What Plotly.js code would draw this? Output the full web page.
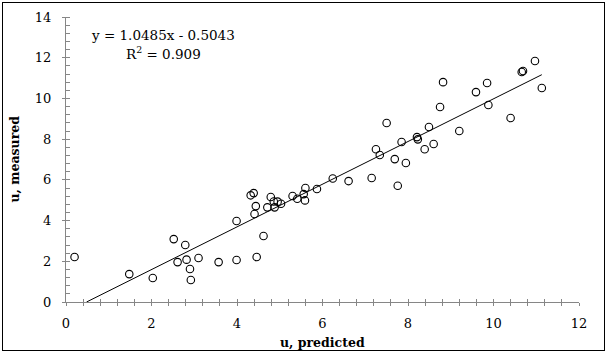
<!DOCTYPE html>
<html>
<head>
<meta charset="utf-8">
<script src="https://cdn.plot.ly/plotly-3.0.1.min.js"></script>
<style>
  html, body { margin: 0; padding: 0; background: #fff; }
  #wrap { position: relative; width: 607px; height: 355px; }
  #chart { position: absolute; left: 0; top: 0; width: 607px; height: 355px; }
  #frame { position: absolute; left: 2px; top: 2px; width: 603px; height: 349px;
           border: 1px solid #000; box-sizing: border-box; pointer-events: none; }
</style>
</head>
<body>
<div id="wrap"><div id="chart"></div><div id="frame"></div></div>
<script>
// predicted u (x) and measured u (y)
const uPredicted = [0.20, 1.48, 2.03, 2.52, 2.79, 2.61, 2.82, 3.10, 2.90, 2.92,
  3.57, 3.99, 4.46, 4.62, 3.99, 4.41, 4.44, 4.32, 4.39, 4.71,
  4.79, 4.86, 4.88, 4.95, 5.03, 5.30, 5.41, 5.56, 5.60, 5.59,
  5.87, 6.24, 6.61, 7.15, 7.76, 7.25, 7.34, 7.50, 7.69, 7.85,
  7.95, 8.21, 8.23, 8.39, 8.49, 8.60, 8.75, 8.82, 9.20, 9.59,
  9.85, 9.88, 10.40, 10.66, 10.69, 10.97, 11.13];
const uMeasured = [2.21, 1.37, 1.18, 3.09, 2.80, 1.96, 2.08, 2.16, 1.62, 1.08,
  1.96, 2.06, 2.21, 3.24, 3.98, 4.32, 4.71, 5.24, 5.35, 4.65,
  5.16, 4.94, 4.65, 4.93, 4.83, 5.21, 5.07, 5.30, 5.60, 4.99,
  5.55, 6.07, 5.94, 6.09, 5.71, 7.50, 7.22, 8.79, 7.02, 7.86,
  6.83, 8.10, 7.99, 7.50, 8.60, 7.76, 9.58, 10.80, 8.40, 10.31,
  10.76, 9.68, 9.04, 11.30, 11.35, 11.84, 10.51];
const slope = 1.0485;
const intercept = -0.5043;
const equationText = "y = 1.0485x - 0.5043";
const r2Text = "R<sup>2</sup> = 0.909";
const xTitle = "u, predicted";
const yTitle = "u, measured";

const xStart = -intercept / slope;
const xEnd = Math.max(...uPredicted);
const trendX = [xStart, xEnd];
const trendY = trendX.map(v => slope * v + intercept);

const axisGray = '#868686';
const font = { family: 'DejaVu Serif', size: 13, color: '#000' };

const traces = [
  { x: trendX, y: trendY, type: 'scatter', mode: 'lines',
    line: { color: '#000', width: 1 }, hoverinfo: 'skip', showlegend: false },
  { x: uPredicted, y: uMeasured, type: 'scatter', mode: 'markers',
    marker: { symbol: 'circle-open', size: 7.5, color: '#000', line: { width: 1.1, color: '#000' } },
    showlegend: false },
  { x: [0], y: [0], xaxis: 'x2', yaxis: 'y2', type: 'scatter', mode: 'markers',
    marker: { opacity: 0 }, hoverinfo: 'skip', showlegend: false }
];

const layout = {
  width: 607, height: 355,
  margin: { l: 66, r: 28, t: 17, b: 53 },
  paper_bgcolor: '#fff', plot_bgcolor: '#fff',
  font: font,
  showlegend: false,
  xaxis: {
    range: [0, 12], dtick: 2, tick0: 0, showgrid: false, zeroline: false,
    showline: true, linecolor: axisGray, linewidth: 1,
    ticks: 'outside', ticklen: 3, tickcolor: axisGray, tickwidth: 1,
    minor: { dtick: 0.4, ticks: 'outside', ticklen: 3, tickcolor: axisGray, tickwidth: 1, showgrid: false },
    tickfont: font, ticklabelstandoff: 6
  },
  xaxis2: {
    overlaying: 'x', anchor: 'y', range: [0, 12], dtick: 0.4, tick0: 0,
    showgrid: false, zeroline: false, showline: false, showticklabels: false,
    ticks: 'inside', ticklen: 3, tickcolor: axisGray, tickwidth: 1
  },
  yaxis: {
    range: [0, 14], dtick: 2, tick0: 0, showgrid: false, zeroline: false,
    showline: true, linecolor: axisGray, linewidth: 1,
    ticks: 'outside', ticklen: 3, tickcolor: axisGray, tickwidth: 1,
    minor: { dtick: 0.4, ticks: 'inside', ticklen: 4, tickcolor: axisGray, tickwidth: 1, showgrid: false },
    tickfont: font, ticklabelstandoff: 8
  },
  yaxis2: {
    overlaying: 'y', anchor: 'x', side: 'left', range: [0, 14], dtick: 2, tick0: 0,
    showgrid: false, zeroline: false, showline: false, showticklabels: false,
    ticks: 'inside', ticklen: 4, tickcolor: axisGray, tickwidth: 1
  },
  annotations: [
    { text: equationText, xref: 'x', yref: 'y', x: 2.27, y: 13.1,
      showarrow: false, xanchor: 'center', yanchor: 'middle',
      font: { family: 'DejaVu Serif', size: 13.5, color: '#000' } },
    { text: r2Text, xref: 'x', yref: 'y', x: 2.29, y: 12.25,
      showarrow: false, xanchor: 'center', yanchor: 'middle',
      font: { family: 'DejaVu Serif', size: 13.5, color: '#000' } },
    { text: '<b>' + xTitle + '</b>', xref: 'paper', yref: 'paper', x: 0.5, y: 0,
      xanchor: 'center', yanchor: 'middle', yshift: -40, showarrow: false,
      font: { family: 'DejaVu Serif', size: 12.5, color: '#000' } },
    { text: '<b>' + yTitle + '</b>', xref: 'paper', yref: 'paper', x: 0, y: 0.5,
      xanchor: 'center', yanchor: 'middle', xshift: -52, textangle: -90, showarrow: false,
      font: { family: 'DejaVu Serif', size: 12.5, color: '#000' } }
  ]
};

Plotly.newPlot('chart', traces, layout, { staticPlot: true, displayModeBar: false });
</script>
</body>
</html>
